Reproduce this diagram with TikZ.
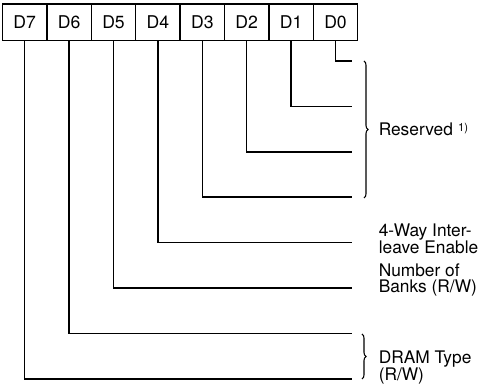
\documentclass[tikz,border=0pt]{standalone}
\usepackage{fontspec}
\setmainfont{TeX Gyre Heros}
\usetikzlibrary{decorations.pathreplacing}
\begin{document}
\begin{tikzpicture}[x=0.75pt,y=-0.75pt,
  bitbox/.style={draw,line width=1.1pt,minimum width=33.3pt,minimum height=27.4pt,inner sep=0pt,font=\fontsize{13.2}{14}\selectfont},
  wire/.style={line width=1.1pt},
  brc/.style={line width=0.8pt,decorate,decoration={brace,amplitude=3pt}},
  lbl/.style={anchor=base west,inner sep=0pt,align=left,font=\fontsize{13}{11.2}\selectfont}]
\useasboundingbox (0,0) rectangle (486,384);
% bit boxes
\foreach \i/\n in {7/D7,6/D6,5/D5,4/D4,3/D3,2/D2,1/D1,0/D0}{
  \node[bitbox] (b\i) at ({24.7+44.4*(7-\i)},22.3) {\n};
}
% wire ends
\foreach \i in {0,...,7}{
  \coordinate (e\i) at (352,{61+45.4*\i});
}
\foreach \i in {0,...,7}{
  \draw[wire] (b\i.south) |- (e\i);
}
% braces
\coordinate (r1) at (364,61);
\coordinate (r2) at (364,198);
\draw[brc] (r1) -- (r2);
\coordinate (t1) at (362,334);
\coordinate (t2) at (362,379);
\draw[brc] (t1) -- (t2);
% labels (base anchor = baseline of last line)
\node[lbl] (res) at (378.5,136) {Reserved\hspace{0.3em}\raisebox{3pt}{\fontsize{8.5}{10}\selectfont 1)}};
\node[lbl] (way) at (378.5,254) {4-Way Inter-\\leave Enable};
\node[lbl,font=\fontsize{13}{12.2}\selectfont] (nob) at (378.5,292.5) {Number of\\Banks (R/W)};
\node[lbl] (drt) at (378.5,381) {DRAM Type\\(R/W)};
\end{tikzpicture}
\end{document}
